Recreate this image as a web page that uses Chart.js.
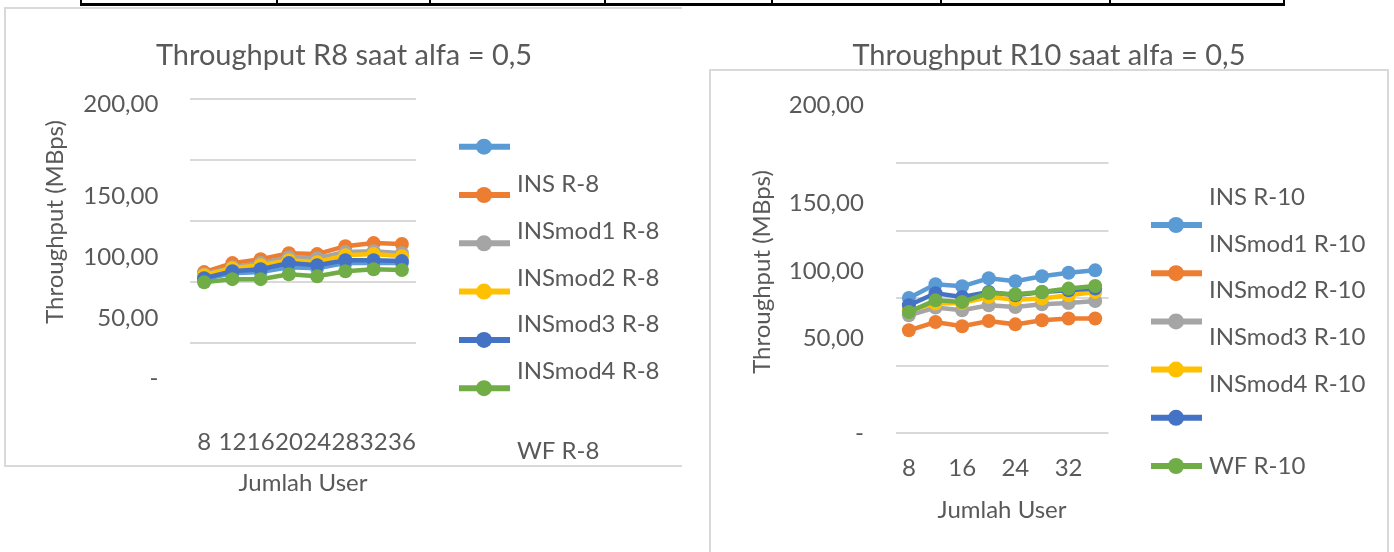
<!DOCTYPE html>
<html lang="id">
<head>
<meta charset="UTF-8">
<title>Throughput R8 / R10 saat alfa = 0,5</title>
<script src="https://cdn.jsdelivr.net/npm/chart.js"></script>
<style>
    body {
        margin: 0;
        width: 1394px;
        height: 552px;
        overflow: hidden;
        position: relative;
        background: #fff;
    }
    /* sisa garis tabel di atas */
    .tbl-h { position: absolute; left: 80px; top: 3px; width: 1205px; height: 3px; background: #000; }
    .tbl-v { position: absolute; top: 0; width: 2px; height: 5px; background: #000; }
    .frame { position: absolute; box-sizing: border-box; border: 2px solid #d9d9d9; }
    #frameR8 { left: 4px; top: 7px; width: 678px; height: 460px; border-right: none; }
    #frameR10 { left: 709px; top: 69px; width: 680px; height: 520px; }
    canvas { position: absolute; }
    #chartR8 { left: 5px; top: 10px; }
    #chartR10 { left: 711px; top: 30px; }
</style>
</head>
<body>
    <div class="tbl-h"></div>
    <div class="tbl-v" style="left:80px"></div>
    <div class="tbl-v" style="left:276px"></div>
    <div class="tbl-v" style="left:429px"></div>
    <div class="tbl-v" style="left:604px"></div>
    <div class="tbl-v" style="left:771px"></div>
    <div class="tbl-v" style="left:940px"></div>
    <div class="tbl-v" style="left:1109px"></div>
    <div class="tbl-v" style="left:1283px"></div>

    <div class="frame" id="frameR8"></div>
    <div class="frame" id="frameR10"></div>

    <canvas id="chartR8" width="676" height="490"></canvas>
    <canvas id="chartR10" width="683" height="522"></canvas>

<script>
    // jumlah user (sumbu x)
    const USERS = [8, 12, 16, 20, 24, 28, 32, 36];

    // R8
    const NAMES_R8 = ['INS R-8', 'INSmod1 R-8', 'INSmod2 R-8', 'INSmod3 R-8', 'INSmod4 R-8', 'WF R-8'];
    const INS_R8     = [82.0, 85.9, 86.6, 89.8, 89.2, 92.5, 92.5, 92.5];
    const INSMOD1_R8 = [86.6, 92.5, 95.1, 99.0, 98.4, 103.6, 105.6, 105.0];
    const INSMOD2_R8 = [85.2, 89.8, 92.5, 96.4, 95.7, 99.7, 100.3, 99.0];
    const INSMOD3_R8 = [84.6, 89.2, 91.1, 94.4, 93.1, 97.7, 98.4, 97.0];
    const INSMOD4_R8 = [82.6, 87.2, 88.5, 92.5, 91.1, 94.4, 94.4, 93.8];
    const WF_R8      = [80.0, 82.0, 82.0, 85.2, 83.9, 87.2, 88.5, 87.9];

    // R10
    const NAMES_R10 = ['INS R-10', 'INSmod1 R-10', 'INSmod2 R-10', 'INSmod3 R-10', 'INSmod4 R-10', 'WF R-10'];
    const INS_R10     = [100.2, 110.4, 108.9, 114.8, 112.6, 116.3, 118.9, 120.7];
    const INSMOD1_R10 = [76.3, 82.4, 79.3, 83.2, 80.7, 83.7, 85.0, 85.0];
    const INSMOD2_R10 = [87.4, 93.1, 91.1, 94.8, 93.6, 95.6, 96.5, 98.0];
    const INSMOD3_R10 = [91.1, 96.1, 96.5, 101.0, 99.0, 99.8, 102.2, 104.7];
    const INSMOD4_R10 = [94.8, 103.7, 101.0, 104.7, 102.2, 104.7, 105.9, 107.2];
    const WF_R10      = [89.9, 98.5, 97.3, 103.9, 103.0, 104.7, 107.2, 109.1];

    // label sumbu y (posisinya di gambar asli tidak sejajar dengan gridline)
    const Y_LABELS = ['-', '50,00', '100,00', '150,00', '200,00'];
    const R8_LABEL_AT  = [17.2, 56.3, 96.6, 136.1, 196.3];
    const R10_LABEL_AT = [0, 70.1, 120, 170.1, 243.2];

    const COLORS = ['#5B9BD5', '#ED7D31', '#A5A5A5', '#FFC000', '#4472C4', '#70AD47'];
    const TEXT = '#595959';
    const FONT = 'Lato, "Noto Sans", sans-serif';

    Chart.defaults.font.family = FONT;
    Chart.defaults.font.size = 24;
    Chart.defaults.color = TEXT;

    // judul, judul sumbu y dan legenda digambar sendiri
    const excelLook = {
        id: 'excelLook',
        afterDraw(chart, args, o) {
            const ctx = chart.ctx;
            const sets = chart.data.datasets;
            ctx.save();
            ctx.fillStyle = TEXT;
            ctx.textBaseline = 'middle';
            ctx.textAlign = 'center';
            ctx.font = '29px ' + FONT;
            ctx.fillText(o.title, o.titleX, o.titleY);

            ctx.save();
            ctx.translate(o.yTitleX, o.yTitleY);
            ctx.rotate(-Math.PI / 2);
            ctx.font = '24px ' + FONT;
            ctx.fillText('Throughput (MBps)', 0, 0);
            ctx.restore();

            ctx.font = '24px ' + FONT;
            ctx.textAlign = 'left';
            sets.forEach((ds, i) => {
                const y = o.symTop + i * o.symStep;
                ctx.strokeStyle = ds.borderColor;
                ctx.lineWidth = 6;
                ctx.beginPath();
                ctx.moveTo(o.symX, y);
                ctx.lineTo(o.symX + 51, y);
                ctx.stroke();
                ctx.fillStyle = ds.borderColor;
                ctx.beginPath();
                ctx.arc(o.symX + 25, y, 8, 0, Math.PI * 2);
                ctx.fill();

                const ty = i < sets.length - 1 ? o.textTop + i * o.textStep : o.lastTextY;
                ctx.fillStyle = TEXT;
                ctx.fillText(ds.label, o.textX, ty);
            });
            ctx.restore();
        }
    };

    function makeChart(id, c) {
        return new Chart(document.getElementById(id), {
            type: 'line',
            data: {
                labels: USERS,
                datasets: c.series.map((vals, i) => ({
                    label: c.names[i],
                    data: vals,
                    borderColor: COLORS[i],
                    backgroundColor: COLORS[i],
                    pointBackgroundColor: COLORS[i],
                    pointBorderWidth: 0,
                    pointRadius: 7,
                    borderWidth: 4.5,
                    order: c.series.length - 1 - i   // seri terakhir di atas
                }))
            },
            options: {
                responsive: false,
                animation: false,
                layout: { padding: { top: c.top, right: c.padRight, bottom: 0, left: 0 } },
                plugins: {
                    legend: { display: false },
                    title: { display: false },
                    tooltip: { enabled: false },
                    excelLook: c.look
                },
                scales: {
                    x: {
                        offset: true,
                        grid: { display: false, drawTicks: false },
                        border: { display: false },
                        ticks: {
                            padding: c.xTickPad,
                            autoSkip: false,
                            maxRotation: 0,
                            minRotation: 0,
                            callback: (v, i) => i % c.xEvery === 0 ? USERS[i] : ''
                        },
                        title: { display: true, text: 'Jumlah User', padding: { top: 0, bottom: c.xTitlePad } },
                        afterFit: s => { s.height = c.xHeight; }
                    },
                    y: {
                        position: 'left',
                        min: 0,
                        max: c.yMax,
                        ticks: { display: false, stepSize: c.step },
                        grid: {
                            drawTicks: false,
                            lineWidth: 2,
                            color: ctx => ctx.tick && ctx.tick.value === c.hideGrid ? 'rgba(0,0,0,0)' : '#d9d9d9'
                        },
                        border: { display: false },
                        afterFit: s => { s.width = 0; }
                    },
                    yl: {
                        position: 'left',
                        min: 0,
                        max: c.yMax,
                        grid: { display: false, drawTicks: false },
                        border: { display: false },
                        ticks: {
                            padding: c.yTickPad,
                            autoSkip: false,
                            callback: (v, i) => Y_LABELS[i]
                        },
                        afterBuildTicks: s => { s.ticks = c.labelAt.map(v => ({ value: v })); },
                        afterFit: s => { s.width = c.left; }
                    }
                }
            },
            plugins: [excelLook]
        });
    }

    makeChart('chartR8', {
        names: NAMES_R8,
        series: [INS_R8, INSMOD1_R8, INSMOD2_R8, INSMOD3_R8, INSMOD4_R8, WF_R8],
        labelAt: R8_LABEL_AT,
        yMax: 200, step: 40, hideGrid: 0,
        top: 89, left: 185, padRight: 265,
        xHeight: 95.7, xTickPad: 23.3, xTitlePad: 2.6, xEvery: 1, yTickPad: 31.6,
        look: {
            title: 'Throughput R8 saat alfa = 0,5', titleX: 339, titleY: 46,
            yTitleX: 50, yTitleY: 212,
            symX: 454, symTop: 136.7, symStep: 48.3,
            textX: 512, textTop: 174, textStep: 46.9, lastTextY: 441.7
        }
    });

    makeChart('chartR10', {
        names: NAMES_R10,
        series: [INS_R10, INSMOD1_R10, INSMOD2_R10, INSMOD3_R10, INSMOD4_R10, WF_R10],
        labelAt: R10_LABEL_AT,
        yMax: 250, step: 50, hideGrid: 250,
        top: 65.8, left: 184.6, padRight: 285.5,
        xHeight: 118.7, xTickPad: 20.3, xTitlePad: 27.6, xEvery: 2, yTickPad: 31.8,
        look: {
            title: 'Throughput R10 saat alfa = 0,5', titleX: 338, titleY: 26,
            yTitleX: 51, yTitleY: 242,
            symX: 440, symTop: 195, symStep: 48.2,
            textX: 498, textTop: 167, textStep: 46.8, lastTextY: 436
        }
    });
</script>
</body>
</html>
